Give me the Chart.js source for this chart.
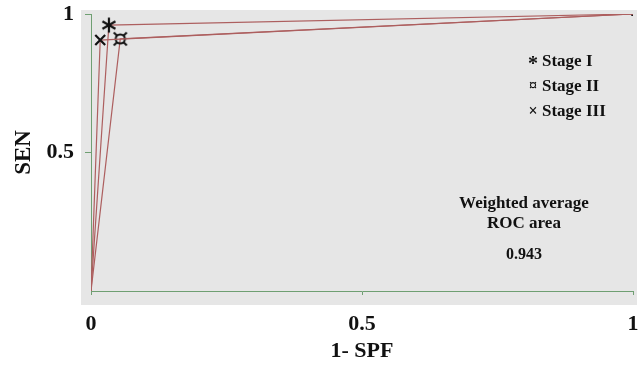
<!DOCTYPE html>
<html>
<head>
<meta charset="utf-8">
<script src="https://cdn.jsdelivr.net/npm/chart.js@4/dist/chart.umd.min.js"></script>
<style>
  html, body { margin: 0; padding: 0; background: #ffffff; }
  #wrap { width: 643px; height: 365px; position: relative; }
</style>
</head>
<body>
<div id="wrap"><canvas id="roc"></canvas></div>
<script>
// ROC operating points per tumour stage (false positive rate, true positive rate)
const stages = ['Stage I', 'Stage II', 'Stage III'];
const fprValues = [0.033, 0.054, 0.017];
const tprValues = [0.96, 0.91, 0.906];
const legendSymbols = ['*', '\u00A4', '\u00D7'];
const xTickValues = [0, 0.5, 1];
const yTickValues = [0.5, 1];
const summaryLines = ['Weighted average', 'ROC area'];
const rocArea = '0.943';

const SERIF = '"Liberation Serif", "Times New Roman", serif';
const AXIS_GREEN = '#6f9f72';
const CURVE_RED = '#ad5f5f';

// marker glyphs drawn onto small canvases
function makeStar() {
  const c = document.createElement('canvas');
  c.width = 18; c.height = 18;
  const g = c.getContext('2d');
  g.strokeStyle = '#111'; g.lineWidth = 2.2; g.lineCap = 'butt';
  const r = 7.5;
  for (let i = 0; i < 3; i++) {
    const a = Math.PI / 2 + i * Math.PI / 3;
    g.beginPath();
    g.moveTo(9 + r * Math.cos(a), 9 - r * Math.sin(a));
    g.lineTo(9 - r * Math.cos(a), 9 + r * Math.sin(a));
    g.stroke();
  }
  return c;
}
function makeCurrency() {
  const c = document.createElement('canvas');
  c.width = 16; c.height = 16;
  const g = c.getContext('2d');
  g.strokeStyle = '#111'; g.lineWidth = 2;
  g.beginPath(); g.arc(8, 8, 4.6, 0, Math.PI * 2); g.stroke();
  [[1.5, 1.5], [14.5, 1.5], [1.5, 14.5], [14.5, 14.5]].forEach(([x, y]) => {
    g.beginPath();
    g.moveTo(x, y);
    g.lineTo(x + (x < 8 ? 3 : -3), y + (y < 8 ? 3 : -3));
    g.stroke();
  });
  return c;
}
const markerStyles = [makeStar(), makeCurrency(), 'crossRot'];

const datasets = stages.map((name, i) => ({
  label: name,
  data: [{ x: 0, y: 0 }, { x: fprValues[i], y: tprValues[i] }, { x: 1, y: 1 }],
  showLine: true,
  borderColor: CURVE_RED,
  borderWidth: 1.2,
  pointStyle: ['circle', markerStyles[i], 'rect'],
  pointRadius: [0, 7, i === 0 ? 2 : 0],
  pointBorderColor: '#111',
  pointBackgroundColor: '#222',
  pointBorderWidth: [1, 2.2, 1],
  order: 3 - i
}));

const panelBackground = {
  id: 'panelBackground',
  beforeDraw(chart) {
    const { ctx, chartArea: a } = chart;
    ctx.save();
    ctx.fillStyle = '#e6e6e6';
    ctx.fillRect(a.left - 10, a.top - 4, a.right - a.left + 14, a.bottom - a.top + 18);
    ctx.restore();
  }
};

const annotations = {
  id: 'annotations',
  afterDraw(chart) {
    const { ctx } = chart;
    ctx.save();
    ctx.fillStyle = '#111';
    ctx.textBaseline = 'middle';
    stages.forEach((name, i) => {
      const y = 62 + i * 25;
      ctx.textAlign = 'center';
      ctx.font = (i === 0 ? 'bold 20px ' : 'bold 16px ') + SERIF;
      ctx.fillText(legendSymbols[i], 533, y + (i === 0 ? 3 : 0));
      ctx.font = 'bold 17px ' + SERIF;
      ctx.textAlign = 'left';
      ctx.fillText(name, 542, y);
    });
    ctx.textAlign = 'center';
    ctx.font = 'bold 17px ' + SERIF;
    summaryLines.forEach((t, i) => ctx.fillText(t, 524, 204 + i * 20));
    ctx.font = 'bold 16px ' + SERIF;
    ctx.fillText(rocArea, 524, 255);
    ctx.restore();
  }
};

new Chart(document.getElementById('roc'), {
  type: 'scatter',
  data: { datasets },
  plugins: [panelBackground, annotations],
  options: {
    responsive: true,
    maintainAspectRatio: false,
    animation: false,
    layout: { padding: { top: 14, right: 10, left: 0, bottom: 0 } },
    plugins: { legend: { display: false }, tooltip: { enabled: false } },
    scales: {
      x: {
        type: 'linear',
        min: 0, max: 1,
        afterFit(s) { s.height = 74; s.paddingLeft = 0; s.paddingRight = 0; },
        afterBuildTicks(s) { s.ticks = xTickValues.map(v => ({ value: v })); },
        border: { color: AXIS_GREEN, width: 1 },
        grid: { drawOnChartArea: false, color: AXIS_GREEN, tickLength: 4 },
        ticks: {
          color: '#111', padding: 16, maxRotation: 0,
          font: { family: SERIF, size: 22, weight: 'bold' },
          callback: v => String(v)
        },
        title: {
          display: true, text: '1- SPF', color: '#111',
          font: { family: SERIF, size: 22, weight: 'bold' },
          padding: { top: 0, bottom: 0 }
        }
      },
      y: {
        type: 'linear',
        min: 0, max: 1,
        afterFit(s) { s.width = 91; s.paddingTop = 0; s.paddingBottom = 0; },
        afterBuildTicks(s) { s.ticks = yTickValues.map(v => ({ value: v })); },
        border: { color: AXIS_GREEN, width: 1 },
        grid: { drawOnChartArea: false, color: AXIS_GREEN, tickLength: 6 },
        ticks: {
          color: '#111', padding: 11,
          font: { family: SERIF, size: 22, weight: 'bold' },
          callback: v => String(v)
        },
        title: {
          display: true, text: 'SEN', color: '#111',
          font: { family: SERIF, size: 23, weight: 'bold' },
          padding: { top: 10, bottom: 0 }
        }
      }
    }
  }
});
</script>
</body>
</html>
